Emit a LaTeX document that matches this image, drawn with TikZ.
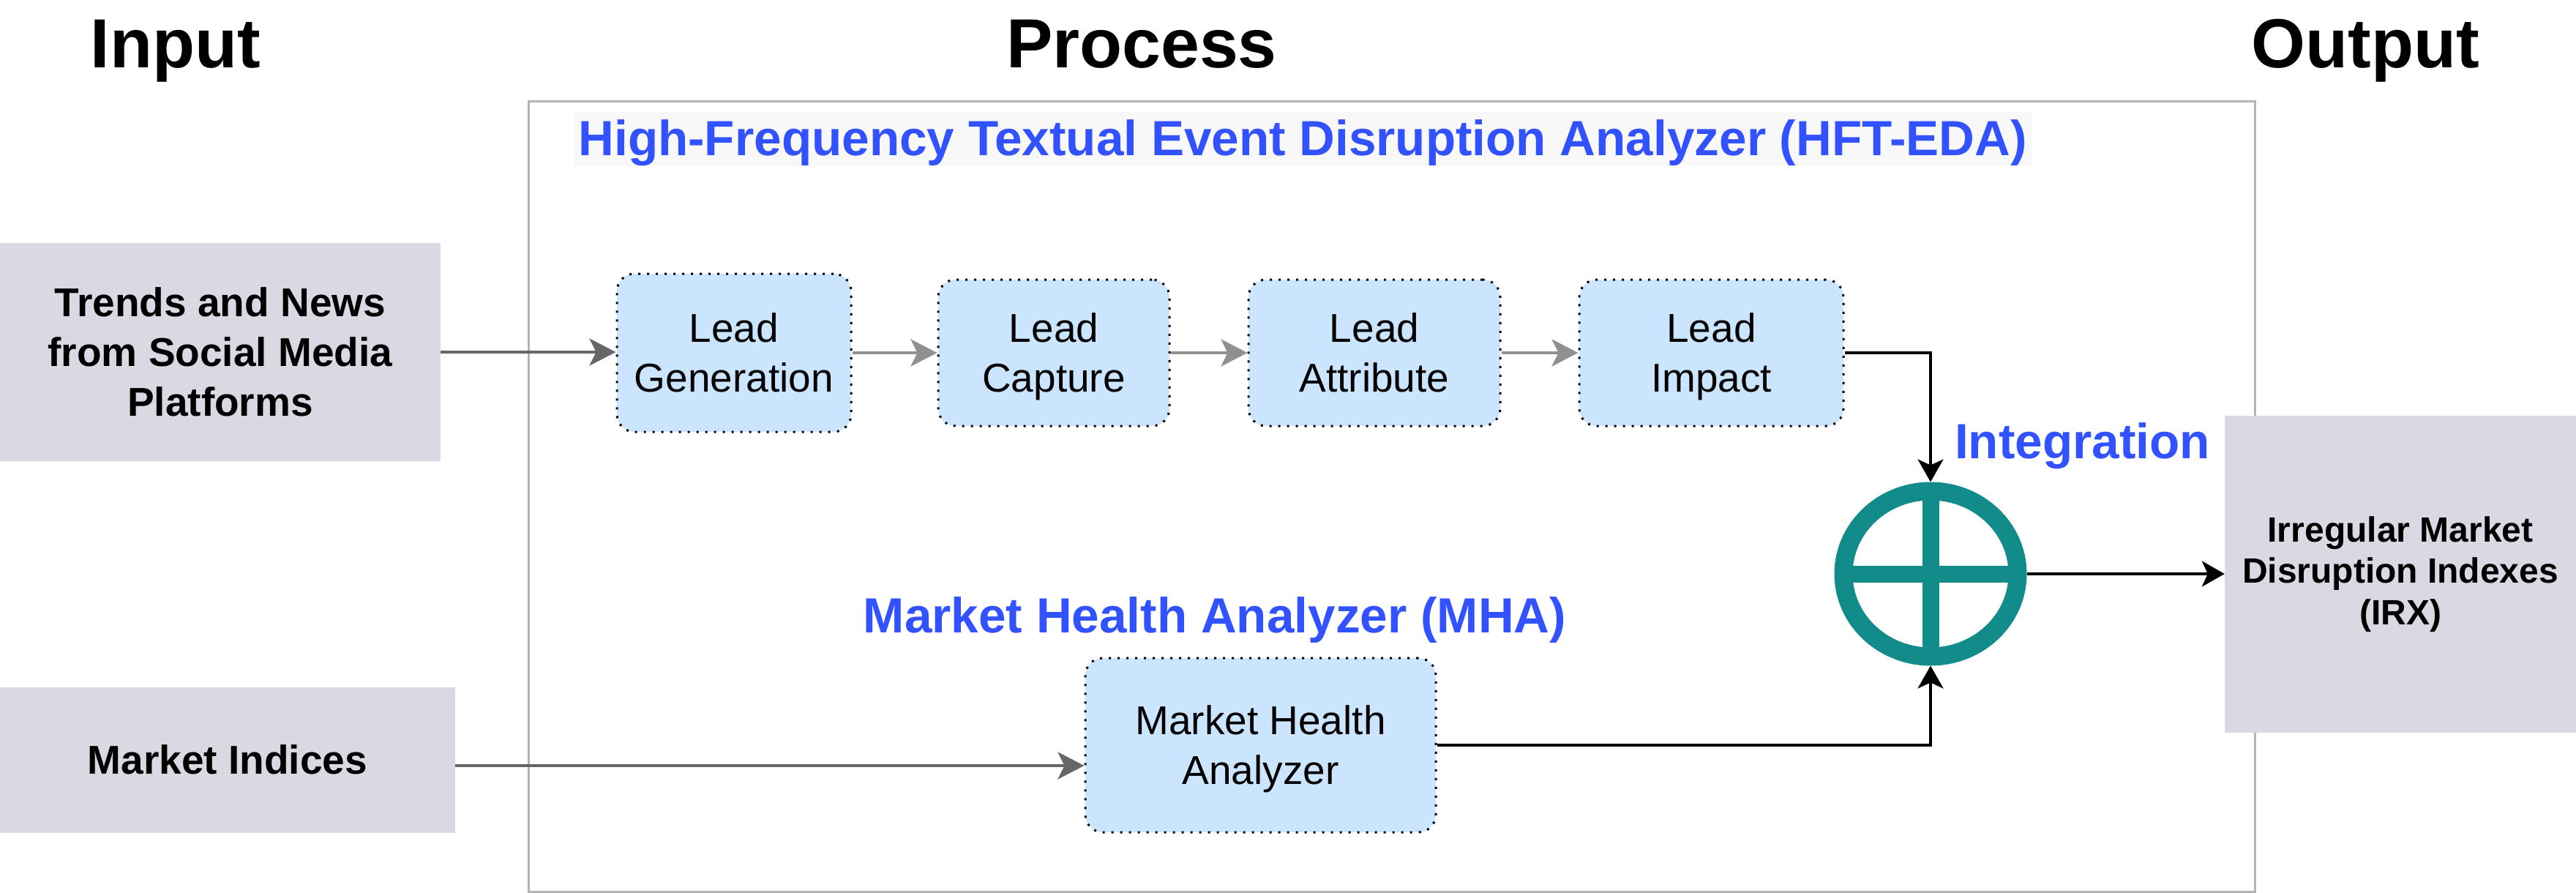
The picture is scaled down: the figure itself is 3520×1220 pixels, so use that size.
\documentclass[tikz,border=0pt]{standalone}
\usepackage{fontspec}
\setmainfont{Liberation Sans}
\usetikzlibrary{arrows.meta,shapes.geometric,calc}
\definecolor{inbox}{HTML}{DAD8E2}
\definecolor{leadfill}{HTML}{CCE5FF}
\definecolor{titleblue}{HTML}{3352FF}
\definecolor{tealring}{HTML}{128B8B}
\definecolor{framegray}{HTML}{B3B3B3}
\definecolor{arrgray}{HTML}{666666}
\definecolor{arrlight}{HTML}{909090}
\definecolor{titlebg}{HTML}{F8F8F8}
\begin{document}
\begin{tikzpicture}[x=1pt,y=-1pt,
  heading/.style={font=\fontsize{95}{110}\selectfont\bfseries, anchor=base, inner sep=0pt},
  bluetitle/.style={font=\fontsize{67.5}{80}\selectfont\bfseries, text=titleblue, anchor=base, inner sep=0pt},
  iobox/.style={fill=inbox, draw=none, align=center, inner sep=0pt, font=\fontsize{55}{68}\selectfont\bfseries},
  leadbox/.style={fill=leadfill, draw=black, line width=3pt, dash pattern=on 3pt off 9pt, rounded corners=24pt, align=center, inner sep=0pt, text depth=0pt, font=\fontsize{55}{68}\selectfont},
  grayarrow/.style={draw=arrgray, line width=4pt, -{Stealth[length=36pt,width=37pt,inset=9pt]}},
  lightarrow/.style={draw=arrlight, line width=4pt, -{Stealth[length=36pt,width=37pt,inset=9pt]}},
  blackarrow/.style={draw=black, line width=3.5pt, -{Stealth[length=31pt,width=35pt,inset=8pt]}},
  crossbar/.style={draw=tealring, line width=23pt}
]
\useasboundingbox (0,0) rectangle (3520,1220);

% process frame
\node[draw=framegray, line width=3pt, minimum width=2359pt, minimum height=1079pt, inner sep=0pt] (proc) at (1901.5,678.5) {};

% headings
\node[heading] (hin) at (240,93) {Input};
\node[heading] (hproc) at (1560,93) {Process};
\node[heading] (hout) at (3232,93) {Output};

% blue titles
\node[bluetitle, fill=titlebg, minimum width=1992pt, text height=60pt, text depth=15pt] (hft) at (1780,212) {High-Frequency Textual Event Disruption Analyzer (HFT-EDA)};
\node[bluetitle] (mhat) at (1660,864) {Market Health Analyzer (MHA)};
\node[bluetitle] (integ) at (2845.5,626) {Integration};

% input boxes
\node[iobox, minimum width=602pt, minimum height=298pt] (trends) at (301,481) {Trends and News\\from Social Media\\Platforms};
\node[iobox, minimum width=622pt, minimum height=199pt] (mi) at (311,1038) {Market Indices};

% output box
\node[iobox, minimum width=480pt, minimum height=433pt, font=\fontsize{48}{56.5}\selectfont\bfseries] (irx) at (3280,784.5) {Irregular Market\\Disruption Indexes\\(IRX)};

% lead boxes
\node[leadbox, minimum width=320pt, minimum height=216pt] (lg) at (1003,482) {Lead\\Generation};
\node[leadbox, minimum width=316pt, minimum height=200pt] (lc) at (1440,482) {Lead\\Capture};
\node[leadbox, minimum width=344pt, minimum height=200pt] (la) at (1878,482) {Lead\\Attribute};
\node[leadbox, minimum width=361pt, minimum height=200pt] (li) at (2338.5,482) {Lead\\Impact};

% market health analyzer
\node[leadbox, minimum width=479pt, minimum height=238pt] (mha) at (1722.5,1018) {Market Health\\Analyzer};

% integration symbol
\node[ellipse, draw=tealring, line width=25pt, minimum width=238pt, minimum height=226pt, inner sep=0pt] (sum) at (2638,784) {};
\draw[crossbar] ([xshift=-119pt]sum.center) -- ([xshift=119pt]sum.center);
\draw[crossbar] ([yshift=-113pt]sum.center) -- ([yshift=113pt]sum.center);

% connectors
\draw[grayarrow] (trends.east) -- (trends.east -| lg.west);
\coordinate (mhain) at ([yshift=-28pt]mha.west);
\draw[grayarrow] (mi.east |- mhain) -- (mhain);
\draw[lightarrow] (lg) -- (lc);
\draw[lightarrow] (lc) -- (la);
\draw[lightarrow] (la) -- (li);
\draw[blackarrow] (li.east) -| (sum.north);
\draw[blackarrow] (mha.east) -| (sum.south);
\draw[blackarrow] (sum.east) -- (irx.west |- sum.east);
\end{tikzpicture}
\end{document}
